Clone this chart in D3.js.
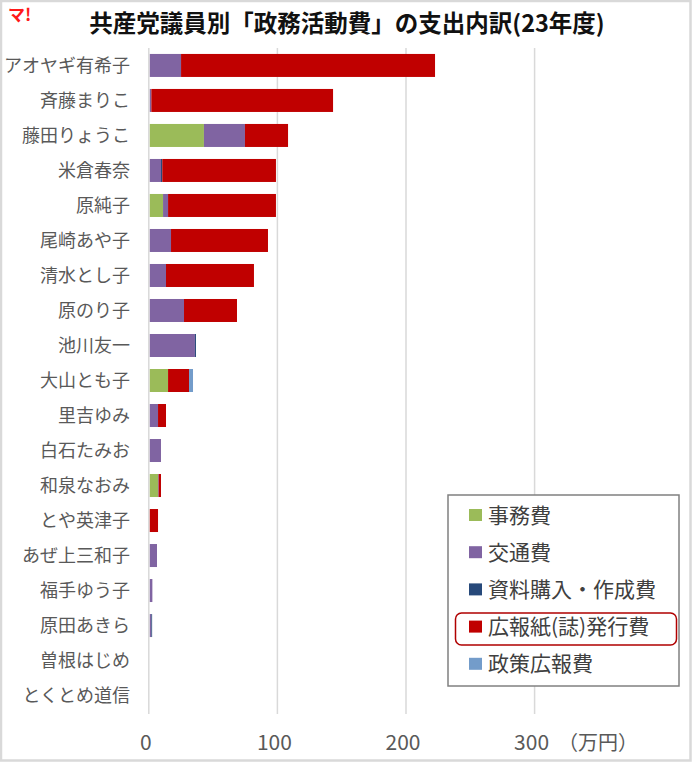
<!DOCTYPE html>
<html>
<head>
  <meta charset="utf-8">
<style type="text/css">
  body { margin: 0; background: #fff; }
  text { font-family: "Noto Sans CJK JP", "Noto Sans", sans-serif; }
</style>
</head>
<script src="https://cdn.jsdelivr.net/npm/d3@7"></script>
<body>
<script>
  var w = 692;
  var h = 762;

  // chart data (万円)
  var names = ["アオヤギ有希子", "斉藤まりこ", "藤田りょうこ", "米倉春奈", "原純子", "尾崎あや子",
               "清水とし子", "原のり子", "池川友一", "大山とも子", "里吉ゆみ", "白石たみお",
               "和泉なおみ", "とや英津子", "あぜ上三和子", "福手ゆう子", "原田あきら", "曽根はじめ", "とくとめ道信"];
  var jimu    = [0, 0, 42.1, 0, 10.3, 0, 0, 0, 0, 14.2, 0, 0, 6.4, 0, 0, 0, 0, 0, 0];
  var kotsu   = [24.3, 1.2, 31.9, 8.7, 3.9, 16.5, 12.6, 26.6, 35.1, 0, 6.4, 8.7, 0.5, 0, 5.6, 2.0, 1.2, 0, 0];
  var shiryo  = [0, 0, 0, 1.0, 0, 0, 0, 0, 0.8, 0, 0, 0, 0, 0, 0, 0, 0.6, 0, 0];
  var koho    = [197.5, 141.3, 33.5, 88.4, 83.9, 75.4, 68.4, 41.2, 0, 16.3, 6.2, 0, 1.8, 6.4, 0, 0, 0, 0, 0];
  var seisaku = [0, 0, 0, 0, 0, 0, 0, 0, 0, 3.1, 0, 0, 0, 0, 0, 0, 0, 0, 0];
  var seriesNames = ["事務費", "交通費", "資料購入・作成費", "広報紙(誌)発行費", "政策広報費"];
  var colors = ["#9bbb59", "#8064a2", "#27497a", "#c00000", "#739cca"];
  var xTicks = [0, 100, 200, 300];

  var keys = ["jimu", "kotsu", "shiryo", "koho", "seisaku"];
  var rows = names.map(function (n, i) {
    return { name: n, jimu: jimu[i], kotsu: kotsu[i], shiryo: shiryo[i], koho: koho[i], seisaku: seisaku[i] };
  });

  var svg = d3.select("body").append("svg").attr("width", w).attr("height", h);

  // outer frame
  svg.append("rect").attr("x", 1).attr("y", 1).attr("width", w - 2.5).attr("height", h - 2.5)
     .attr("fill", "#fff").attr("stroke", "#d9d9d9").attr("stroke-width", 2.5);

  var x = d3.scaleLinear().domain([0, 300]).range([148.8, 534.6]);
  var y = d3.scaleBand().domain(names).range([48, 713]).paddingInner(0.343).paddingOuter(0.17);

  // grid
  svg.append("g").selectAll("line").data(xTicks).enter().append("line")
     .attr("x1", function (d) { return x(d); }).attr("x2", function (d) { return x(d); })
     .attr("y1", 48).attr("y2", 714)
     .attr("stroke", "#d9d9d9").attr("stroke-width", 1.5);

  var stack = d3.stack().keys(keys)(rows);
  svg.append("g").selectAll("g").data(stack).enter().append("g")
     .attr("fill", function (d, i) { return colors[i]; })
     .selectAll("rect").data(function (d) { return d; }).enter().append("rect")
     .attr("x", function (d) { return x(d[0]) + 1; })
     .attr("y", function (d) { return y(d.data.name); })
     .attr("width", function (d) { return Math.max(0, x(d[1]) - x(d[0])); })
     .attr("height", y.bandwidth());

  // category labels
  svg.append("g").selectAll("text").data(names).enter().append("text")
     .attr("x", 130).attr("y", function (d) { return y(d) + y.bandwidth() / 2; })
     .attr("dy", "0.35em").attr("text-anchor", "end")
     .attr("font-size", 18).attr("fill", "#595959")
     .text(function (d) { return d; });

  // x tick labels
  svg.append("g").selectAll("text").data(xTicks).enter().append("text")
     .attr("x", function (d) { return x(d) - 3; }).attr("y", 750)
     .attr("text-anchor", "middle").attr("font-size", 21).attr("fill", "#595959")
     .text(function (d) { return d; });
  svg.append("text").attr("x", 558).attr("y", 750)
     .attr("font-size", 20).attr("fill", "#595959").text("（万円）");

  // title
  svg.append("text").attr("x", 347).attr("y", 32).attr("text-anchor", "middle")
     .attr("font-size", 23.5).attr("font-weight", "bold").attr("fill", "#111")
     .text("共産党議員別「政務活動費」の支出内訳(23年度)");

  // logo
  svg.append("text").attr("x", 8).attr("y", 21)
     .attr("font-size", 17).attr("font-weight", "bold").attr("fill", "#ff1a1a")
     .text("マ!");

  // legend
  var lg = svg.append("g");
  lg.append("rect").attr("x", 448).attr("y", 495).attr("width", 231).attr("height", 191)
    .attr("fill", "#fff").attr("stroke", "#808080").attr("stroke-width", 1.5);
  var items = lg.selectAll("g.item").data(seriesNames).enter().append("g")
    .attr("transform", function (d, i) { return "translate(0," + (515 + i * 37.2) + ")"; });
  items.append("rect").attr("x", 469).attr("y", -6).attr("width", 13).attr("height", 12)
    .attr("fill", function (d, i) { return colors[i]; });
  items.append("text").attr("x", 488).attr("y", 0).attr("dy", "0.36em")
    .attr("font-size", 21).attr("fill", "#404040")
    .text(function (d) { return d; });
  lg.append("rect").attr("x", 455.5).attr("y", 613).attr("width", 221).attr("height", 32)
    .attr("rx", 6).attr("fill", "none").attr("stroke", "#b00000").attr("stroke-width", 1.5);
</script>
</body>
</html>
